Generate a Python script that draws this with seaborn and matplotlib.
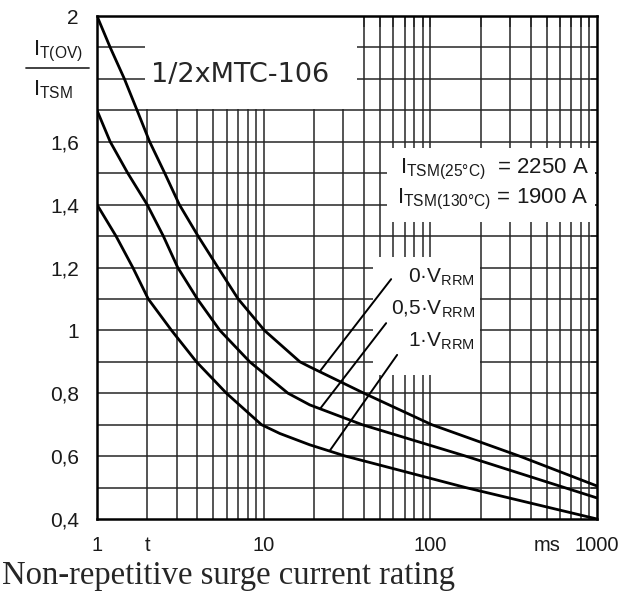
import matplotlib
matplotlib.use("Agg")
import matplotlib.pyplot as plt
import seaborn as sns
import pandas as pd
from matplotlib.patches import Rectangle
from matplotlib.lines import Line2D
from matplotlib.ticker import FixedLocator, NullFormatter

# values (t in ms, I_T(OV)/I_TSM)
t_0v = [1, 1.2, 1.46, 1.74, 2.07, 2.55, 3.12, 4.04, 5.32, 7.03, 10.1, 16.5, 18.9, 40, 102, 343, 1000]
i_0v = [2.0, 1.9, 1.8, 1.7, 1.6, 1.5, 1.4, 1.3, 1.2, 1.1, 1.0, 0.9, 0.884, 0.8, 0.7, 0.6, 0.505]

t_05v = [1, 1.2, 1.53, 2.0, 2.5, 3.05, 4.0, 5.46, 8.25, 14, 18.9, 39, 163, 1000]
i_05v = [1.7, 1.6, 1.5, 1.4, 1.3, 1.2, 1.1, 1.0, 0.9, 0.8, 0.763, 0.7, 0.6, 0.467]

t_1v = [1, 1.3, 1.64, 2.03, 2.8, 3.95, 5.98, 9.7, 12.5, 18.9, 31, 163, 1000]
i_1v = [1.4, 1.3, 1.2, 1.1, 1.0, 0.9, 0.8, 0.7, 0.672, 0.636, 0.6, 0.5, 0.4]

curve_names = ["0·V$_{RRM}$", "0,5·V$_{RRM}$", "1·V$_{RRM}$"]

x_tick_pos = [1, 2, 10, 100, 500, 1000]
x_tick_lab = ["1", "t", "10", "100", "ms", "1000"]
y_tick_pos = [0.4, 0.6, 0.8, 1.0, 1.2, 1.4, 1.6, 2.0]
y_tick_lab = ["0,4", "0,6", "0,8", "1", "1,2", "1,4", "1,6", "2"]

x_grid = [2, 3, 4, 5, 6, 7, 8, 9, 10, 20, 30, 40, 50, 60, 70, 80, 90,
          100, 200, 300, 400, 500, 600, 700, 800, 900]
y_grid = [0.5, 0.6, 0.7, 0.8, 0.9, 1.0, 1.1, 1.2, 1.3, 1.4, 1.5, 1.6, 1.7, 1.8, 1.9]

# leader lines from the labels to the curves (start, end)
leaders = [((58.2, 1.163), (21.9, 0.872)),
           ((54.3, 1.023), (21.9, 0.752)),
           ((63.2, 0.922), (24.9, 0.617))]

df = pd.concat([
    pd.DataFrame({"t": t_0v, "ratio": i_0v, "curve": curve_names[0]}),
    pd.DataFrame({"t": t_05v, "ratio": i_05v, "curve": curve_names[1]}),
    pd.DataFrame({"t": t_1v, "ratio": i_1v, "curve": curve_names[2]}),
])

sns.set_style("white")
plt.rcParams["font.family"] = ["Liberation Sans", "DejaVu Sans"]
plt.rcParams["mathtext.default"] = "regular"

fig = plt.figure(figsize=(6.34, 5.93), dpi=100)
ax = fig.add_axes([97 / 634, 1 - 519 / 593, 500 / 634, 503 / 593])
ax.set_xscale("log")
ax.set_xlim(1, 1000)
ax.set_ylim(0.4, 2.0)

grid_kw = dict(color="#262626", lw=1.1, zorder=1)
for gx in x_grid:
    ax.axvline(gx, **grid_kw)
for gy in y_grid:
    ax.axhline(gy, **grid_kw)

# white boxes behind the annotations
ax.add_patch(Rectangle((1.94, 1.703), 36.5 - 1.94, 0.3, facecolor="white", edgecolor="none", zorder=2))
ax.add_patch(Rectangle((55, 1.345), 975 - 55, 1.58 - 1.345, facecolor="white", edgecolor="none", zorder=2))
ax.add_patch(Rectangle((45, 0.858), 198 - 45, 1.234 - 0.858, facecolor="white", edgecolor="none", zorder=2))

sns.lineplot(data=df, x="t", y="ratio", units="curve", estimator=None,
             color="black", lw=2.0, ax=ax, zorder=3, legend=False)
for ln in ax.lines[-1:]:
    pass
for ln in ax.get_lines():
    ln.set_solid_joinstyle("round")

for (x0, y0), (x1, y1) in leaders:
    ax.plot([x0, x1], [y0, y1], color="black", lw=1.4, zorder=3)

ax.set_xlabel("")
ax.set_ylabel("")
ax.set_xticks(x_tick_pos, x_tick_lab)
ax.set_yticks(y_tick_pos, y_tick_lab)
ax.xaxis.set_minor_locator(FixedLocator(x_grid))
ax.yaxis.set_minor_locator(FixedLocator(y_grid))
ax.xaxis.set_minor_formatter(NullFormatter())
ax.yaxis.set_minor_formatter(NullFormatter())
ax.xaxis.remove_overlapping_locs = False
ax.yaxis.remove_overlapping_locs = False
ax.tick_params(axis="both", which="major", length=0, labelcolor="#1a1a1a")
ax.tick_params(axis="x", which="major", pad=12, labelsize=14.5)
ax.tick_params(axis="y", which="major", pad=13, labelsize=15)
ax.tick_params(axis="x", which="minor", bottom=False, top=True, direction="in", length=8, width=1.1)
ax.tick_params(axis="y", which="minor", left=False, right=True, direction="in", length=4, width=1.1)
for s in ax.spines.values():
    s.set_linewidth(1.8)
    s.set_color("black")
    s.set_zorder(4)


def axpos(px, py):
    return (px - 97) / 500, (519 - py) / 503


ax.text(*axpos(151, 81.5), "1/2xMTC-106", transform=ax.transAxes, fontsize=19.5,
        family="DejaVu Sans", va="baseline", ha="left", zorder=5)
ax.text(*axpos(589, 173), "I$_{TSM(25°C)}$  = 2250 A", transform=ax.transAxes,
        fontsize=16, va="baseline", ha="right", zorder=5, color="#1a1a1a")
ax.text(*axpos(589, 203), "I$_{TSM(130°C)}$ = 1900 A", transform=ax.transAxes,
        fontsize=16, va="baseline", ha="right", zorder=5, color="#1a1a1a")

for name, by in zip(curve_names, [283, 315, 347]):
    ax.text(*axpos(475, by), name, transform=ax.transAxes, fontsize=15,
            va="baseline", ha="right", zorder=5, color="#1a1a1a")

# y axis label as a fraction
fig.text(33 / 634, 1 - 55 / 593, "I$_{T(OV)}$", fontsize=16, va="baseline", ha="left", color="#1a1a1a")
fig.text(33 / 634, 1 - 95 / 593, "I$_{TSM}$", fontsize=16, va="baseline", ha="left", color="#1a1a1a")
fig.add_artist(Line2D([26 / 634, 89 / 634], [1 - 68.3 / 593, 1 - 68.3 / 593],
                      transform=fig.transFigure, color="#333333", lw=1.3))

fig.text(2 / 634, 1 - 584 / 593, "Non-repetitive surge current rating",
         family="Liberation Serif", fontsize=23.5, va="baseline", ha="left")

fig.savefig("out.png", dpi=100)
